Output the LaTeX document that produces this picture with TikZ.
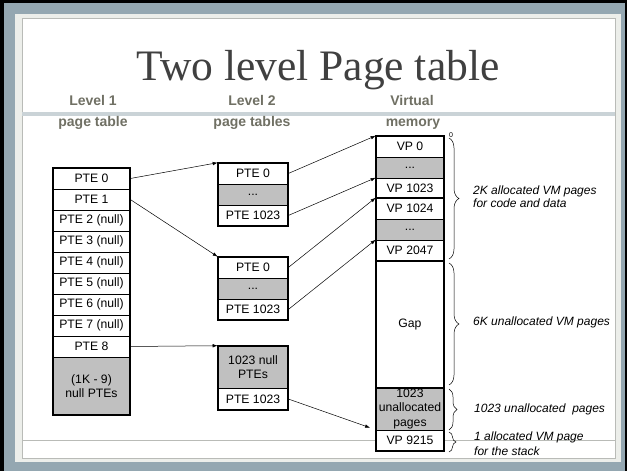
\documentclass[tikz,border=0pt]{standalone}
\usepackage{fontspec}
\setmainfont{Liberation Serif}
\newfontfamily\arialfont{Liberation Sans}
\usetikzlibrary{arrows.meta,decorations.pathreplacing}

\definecolor{framebg}{RGB}{148,167,177}
\definecolor{bandgray}{RGB}{202,211,215}
\definecolor{cellgray}{RGB}{192,192,192}
\definecolor{headgray}{RGB}{112,112,100}
\definecolor{titlegray}{RGB}{64,64,64}
\definecolor{edgegray}{RGB}{236,238,234}
\definecolor{rulegray}{RGB}{185,187,183}

\begin{document}
\begin{tikzpicture}[x=1pt,y=-1pt,
  cell/.style={draw=black, line width=0.6pt, fill=white, inner sep=0pt,
    font=\arialfont\fontsize{12.2}{14}\selectfont, align=center},
  shaded/.style={fill=cellgray},
  lonecell/.style={cell, minimum width=77pt, minimum height=21pt},
  ltwocell/.style={cell, minimum width=70pt, minimum height=21pt},
  vmcell/.style={cell, minimum width=68pt, minimum height=21pt},
  outline/.style={line width=2pt, line join=miter},
  head/.style={font=\arialfont\bfseries\fontsize{14}{16}\selectfont,
    text=headgray, inner sep=0pt, anchor=base},
  note/.style={font=\arialfont\itshape\fontsize{12}{13}\selectfont,
    inner sep=0pt, anchor=west, align=left},
  conn/.style={line width=0.5pt, -{Latex[length=5pt,width=3.5pt]}},
  bracket/.style={decorate, decoration={brace, amplitude=10pt}, line width=0.5pt}
]
\useasboundingbox (0,0) rectangle (627,471);

% slide frame
\fill[black] (0,0) rectangle (627,471);
\fill[framebg] (4,3) rectangle (625,471);
\fill[edgegray] (15,14) rectangle (621,462);
\fill[white] (22,18) rectangle (615,458);
\draw[rulegray, line width=0.6pt] (22,18) rectangle (615,458);
\fill[bandgray] (22,112) rectangle (615,116);
\draw[rulegray, line width=0.7pt] (22,440) -- (615,440);

% title and column heads
\node[anchor=base, inner sep=0pt, text=titlegray,
  font=\fontsize{43.5}{48}\selectfont] (title) at (318,80) {Two level Page table};
\node[head] (h1a) at (93,105) {Level 1};
\node[head] (h1b) at (93,126) {page table};
\node[head] (h2a) at (252,105) {Level 2};
\node[head] (h2b) at (252,126) {page tables};
\node[head] (h3a) at (412,105) {Virtual};
\node[head] (h3b) at (413,126) {memory};

% level 1 page table
\node[lonecell] (l0) at (91.5,178.5) {PTE 0};
\node[lonecell] (l1) at (91.5,199.5) {PTE 1};
\node[lonecell] (l2) at (91.5,220.5) {PTE 2 (null)};
\node[lonecell] (l3) at (91.5,241.5) {PTE 3 (null)};
\node[lonecell] (l4) at (91.5,262.5) {PTE 4 (null)};
\node[lonecell] (l5) at (91.5,283.5) {PTE 5 (null)};
\node[lonecell] (l6) at (91.5,304.5) {PTE 6 (null)};
\node[lonecell] (l7) at (91.5,325.5) {PTE 7 (null)};
\node[lonecell] (l8) at (91.5,346.5) {PTE 8};
\node[lonecell, shaded, minimum height=58pt] (l9) at (91.5,386) {(1K - 9)\\null PTEs};
\draw[outline] (l0.north west) rectangle (l9.south east);

% level 2 page tables
\node[ltwocell] (a0) at (253,173.5) {PTE 0};
\node[ltwocell, shaded] (a1) at (253,194.5) {...};
\node[ltwocell] (a2) at (253,215.5) {PTE 1023};
\draw[outline] (a0.north west) rectangle (a2.south east);

\node[ltwocell] (b0) at (253,267.5) {PTE 0};
\node[ltwocell, shaded] (b1) at (253,288.5) {...};
\node[ltwocell] (b2) at (253,309.5) {PTE 1023};
\draw[outline] (b0.north west) rectangle (b2.south east);

\node[ltwocell, shaded, minimum height=42pt] (c0) at (253,367) {1023 null\\PTEs};
\node[ltwocell] (c1) at (253,399) {PTE 1023};
\draw[outline] (c0.north west) rectangle (c1.south east);

% virtual memory
\node[vmcell] (v0) at (410,146.5) {VP 0};
\node[vmcell, shaded] (v1) at (410,167.5) {...};
\node[vmcell, minimum height=20pt] (v2) at (410,188) {VP 1023};
\node[vmcell] (v3) at (410,208.5) {VP 1024};
\node[vmcell, shaded] (v4) at (410,229.5) {...};
\node[vmcell] (v5) at (410,250.5) {VP 2047};
\node[vmcell, minimum height=127pt] (v6) at (410,324.5) {Gap};
\node[vmcell, shaded, minimum height=42pt,
  font=\arialfont\fontsize{12.2}{14.5}\selectfont] (v7) at (410,409) {1023\\unallocated\\pages};
\node[vmcell] (v8) at (410,440.5) {VP 9215};
\draw[outline] (v0.north west) rectangle (v8.south east);
\draw[outline] (v2.south west) -- (v2.south east);
\draw[outline] (v5.south west) -- (v5.south east);
\draw[outline] (v6.south west) -- (v6.south east);
\node[inner sep=0pt, font=\arialfont\fontsize{7}{8}\selectfont] (zero) at (451,135) {0};

% pointers
\draw[conn] (l0.east) -- (a0.north west);
\draw[conn] (l1.east) -- (b0.north west);
\draw[conn] (l8.east) -- (c0.north west);
\draw[conn] (a0.east) -- (v0.north west);
\draw[conn] (a2.east) -- (v2.north west);
\draw[conn] (b0.east) -- (v3.north west);
\draw[conn] (b2.east) -- (v5.north west);
\draw[conn, shorten >=6pt] (c1.east) -- (v8.north west);

% braces and notes
\coordinate (br1s) at (449,138);
\coordinate (br1e) at (449,259);
\coordinate (br2s) at (449,263);
\coordinate (br2e) at (449,385);
\coordinate (br3s) at (449,389);
\coordinate (br3e) at (449,430);
\coordinate (br4s) at (449,432);
\coordinate (br4e) at (449,452);
\draw[bracket] (br1s) -- (br1e);
\draw[bracket] (br2s) -- (br2e);
\draw[bracket, decoration={brace, amplitude=8pt}] (br3s) -- (br3e);
\draw[bracket, decoration={brace, amplitude=7pt}] (br4s) -- (br4e);
\node[note] (n1) at (473,197) {2K allocated VM pages\\for code and data};
\node[note] (n2) at (473,322) {6K unallocated VM pages};
\node[note] (n3) at (474,409) {1023 unallocated\ \ pages};
\node[note, font=\arialfont\itshape\fontsize{12}{15}\selectfont] (n4) at (474,444) {1 allocated VM page\\for the stack};
\end{tikzpicture}
\end{document}
